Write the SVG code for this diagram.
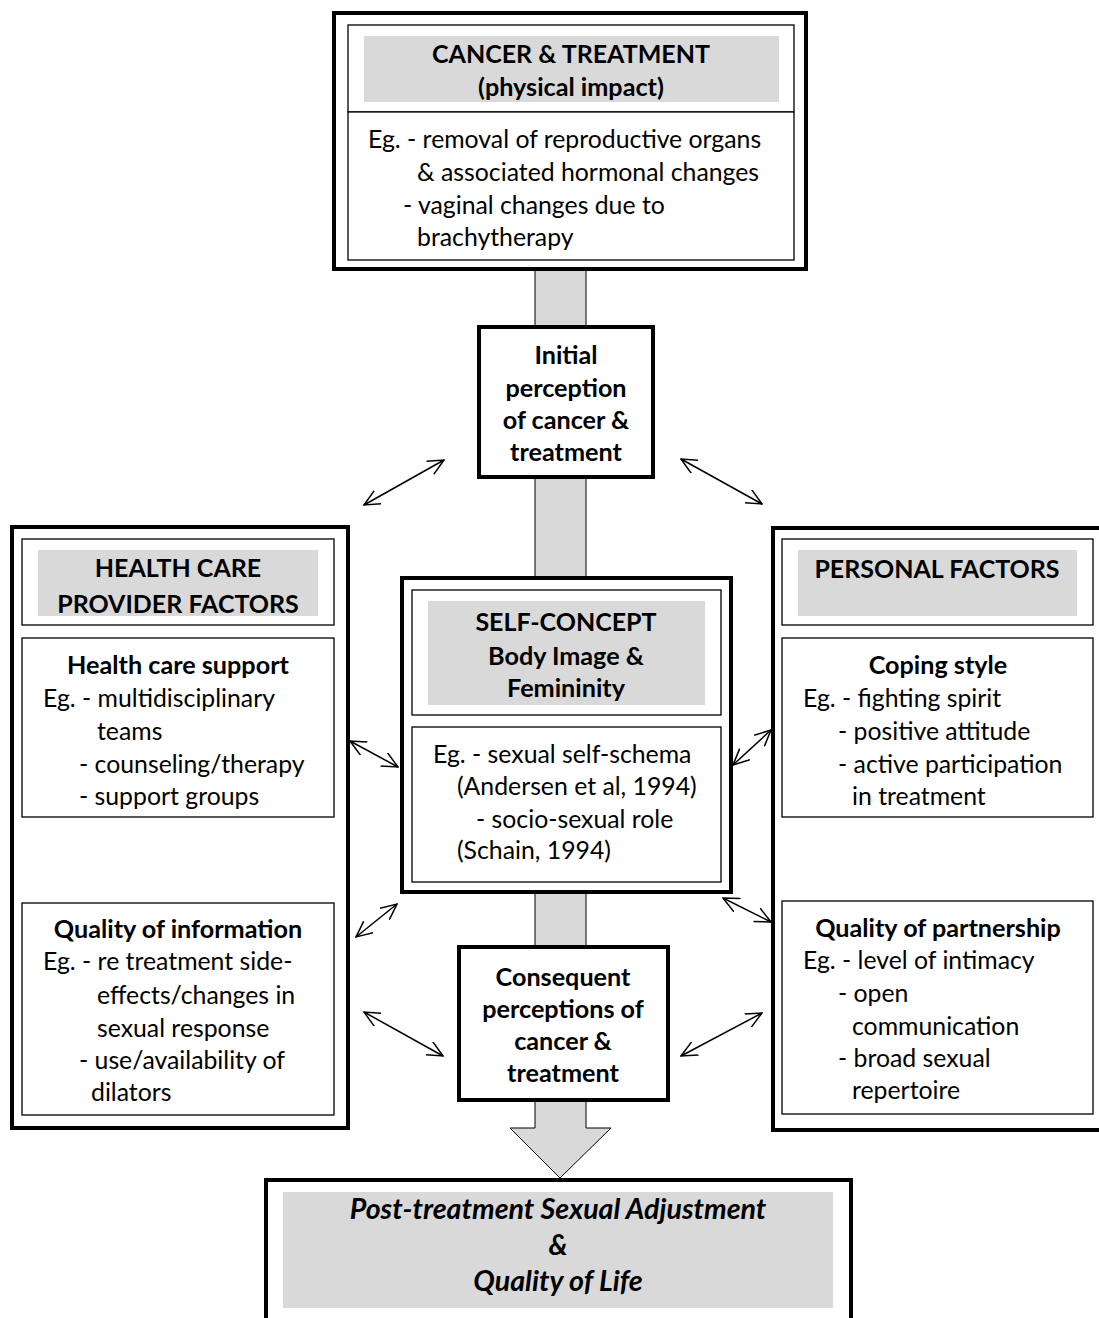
<svg xmlns="http://www.w3.org/2000/svg" width="1099" height="1318" viewBox="0 0 1099 1318">
<style>
.thick{fill:#fff;stroke:#000;stroke-width:4}
.thin{fill:#fff;stroke:#000;stroke-width:1.3}
.gray{fill:#d9d9d9}
text{font-family:Lato,"Liberation Sans",sans-serif;fill:#000}
.b{font-weight:bold;text-anchor:middle}
.h{font-size:25px}
.s{font-size:25.2px}
.t{font-size:24.8px}
.bi{font-weight:bold;font-style:italic;font-size:28.6px;text-anchor:middle}
.con{fill:none;stroke:#000;stroke-width:1.5}
</style>
<defs>
<marker id="ah" viewBox="0 0 17 16" refX="16" refY="8" markerWidth="17" markerHeight="16" markerUnits="userSpaceOnUse" orient="auto-start-reverse">
<path d="M0,0.5 L16,8 L0,15.5" fill="none" stroke="#000" stroke-width="1.5"/>
</marker>
</defs>
<rect width="1099" height="1318" fill="#fff"/>
<g id="connectors">
<path id="main-flow" d="M535,269 L535,1128 L510,1128 L560,1178 L611,1128 L586,1128 L586,269" fill="#d9d9d9" stroke="#000" stroke-width="1"/>
<line class="con" x1="364" y1="505" x2="444" y2="460" marker-start="url(#ah)" marker-end="url(#ah)"/>
<line class="con" x1="681" y1="459" x2="762" y2="504" marker-start="url(#ah)" marker-end="url(#ah)"/>
<line class="con" x1="350" y1="741" x2="398" y2="767" marker-start="url(#ah)" marker-end="url(#ah)"/>
<line class="con" x1="733" y1="765" x2="771" y2="730" marker-start="url(#ah)" marker-end="url(#ah)"/>
<line class="con" x1="356" y1="937" x2="397" y2="904" marker-start="url(#ah)" marker-end="url(#ah)"/>
<line class="con" x1="723" y1="898" x2="771" y2="922" marker-start="url(#ah)" marker-end="url(#ah)"/>
<line class="con" x1="364" y1="1012" x2="443" y2="1056" marker-start="url(#ah)" marker-end="url(#ah)"/>
<line class="con" x1="681" y1="1056" x2="762" y2="1013" marker-start="url(#ah)" marker-end="url(#ah)"/>
<line class="con" x1="940" y1="837" x2="940" y2="888" marker-start="url(#ah)" marker-end="url(#ah)"/>
</g>
<g id="cancer-treatment">
<rect class="thick" x="334" y="13" width="472" height="256"/>
<rect class="thin" x="348" y="25" width="446" height="87"/>
<rect class="gray" x="364" y="36" width="415" height="66"/>
<rect class="thin" x="348" y="112" width="446" height="148"/>
<text class="b h" x="571" y="63">CANCER &amp; TREATMENT</text>
<text class="b s" x="571" y="96">(physical impact)</text>
<text class="t" x="368" y="148">Eg. - removal of reproductive organs</text>
<text class="t" x="417" y="181">&amp; associated hormonal changes</text>
<text class="t" x="403" y="214">- vaginal changes due to</text>
<text class="t" x="417" y="246">brachytherapy</text>
</g>
<g id="initial-perception">
<rect class="thick" x="479" y="327" width="174" height="150"/>
<text class="b s" x="566" y="364">Initial</text>
<text class="b s" x="566" y="397">perception</text>
<text class="b s" x="566" y="429">of cancer &amp;</text>
<text class="b s" x="566" y="461">treatment</text>
</g>
<g id="health-care-provider">
<rect class="thick" x="12" y="527" width="336" height="601"/>
<rect class="thin" x="22" y="539" width="312" height="86"/>
<rect class="gray" x="38" y="550" width="280" height="66"/>
<text class="b h" x="178" y="577">HEALTH CARE</text>
<text class="b h" x="178" y="613">PROVIDER FACTORS</text>
<rect class="thin" x="22" y="638" width="312" height="179"/>
<text class="b s" x="178" y="674">Health care support</text>
<text class="t" x="43" y="707">Eg. - multidisciplinary</text>
<text class="t" x="97" y="740">teams</text>
<text class="t" x="79" y="773">- counseling/therapy</text>
<text class="t" x="79" y="805">- support groups</text>
<rect class="thin" x="22" y="903" width="312" height="212"/>
<text class="b s" x="178" y="938">Quality of information</text>
<text class="t" x="43" y="970">Eg. - re treatment side-</text>
<text class="t" x="97" y="1004">effects/changes in</text>
<text class="t" x="97" y="1037">sexual response</text>
<text class="t" x="79" y="1069">- use/availability of</text>
<text class="t" x="91" y="1101">dilators</text>
</g>
<g id="self-concept">
<rect class="thick" x="402" y="578" width="329" height="314"/>
<rect class="thin" x="412" y="590" width="309" height="125"/>
<rect class="gray" x="428" y="601" width="277" height="104"/>
<text class="b h" x="566" y="631">SELF-CONCEPT</text>
<text class="b s" x="566" y="665">Body Image &amp;</text>
<text class="b s" x="566" y="697">Femininity</text>
<rect class="thin" x="412" y="727" width="309" height="155"/>
<text class="t" x="433" y="763">Eg. - sexual self-schema</text>
<text class="t" x="457" y="795">(Andersen et al, 1994)</text>
<text class="t" x="476" y="828">- socio-sexual role</text>
<text class="t" x="457" y="859">(Schain, 1994)</text>
</g>
<g id="personal-factors">
<rect class="thick" x="773" y="528" width="332" height="602"/>
<rect class="thin" x="782" y="539" width="311" height="86"/>
<rect class="gray" x="798" y="550" width="279" height="66"/>
<text class="b h" x="937" y="578">PERSONAL FACTORS</text>
<rect class="thin" x="782" y="638" width="311" height="179"/>
<text class="b s" x="938" y="674">Coping style</text>
<text class="t" x="803" y="707">Eg. - fighting spirit</text>
<text class="t" x="838" y="740">- positive attitude</text>
<text class="t" x="838" y="773">- active participation</text>
<text class="t" x="852" y="805">in treatment</text>
<rect class="thin" x="782" y="901" width="311" height="213"/>
<text class="b s" x="938" y="937">Quality of partnership</text>
<text class="t" x="803" y="969">Eg. - level of intimacy</text>
<text class="t" x="838" y="1002">- open</text>
<text class="t" x="852" y="1035">communication</text>
<text class="t" x="838" y="1067">- broad sexual</text>
<text class="t" x="852" y="1099">repertoire</text>
</g>
<g id="consequent-perceptions">
<rect class="thick" x="459" y="947" width="209" height="153"/>
<text class="b s" x="563" y="986">Consequent</text>
<text class="b s" x="563" y="1018">perceptions of</text>
<text class="b s" x="563" y="1050">cancer &amp;</text>
<text class="b s" x="563" y="1082">treatment</text>
</g>
<g id="post-treatment">
<rect class="thick" x="266" y="1180" width="585" height="150"/>
<rect class="gray" x="283" y="1192" width="550" height="116"/>
<text class="bi" x="558" y="1219">Post-treatment Sexual Adjustment</text>
<text class="bi" x="558" y="1255">&amp;</text>
<text class="bi" x="558" y="1291">Quality of Life</text>
</g>
</svg>
